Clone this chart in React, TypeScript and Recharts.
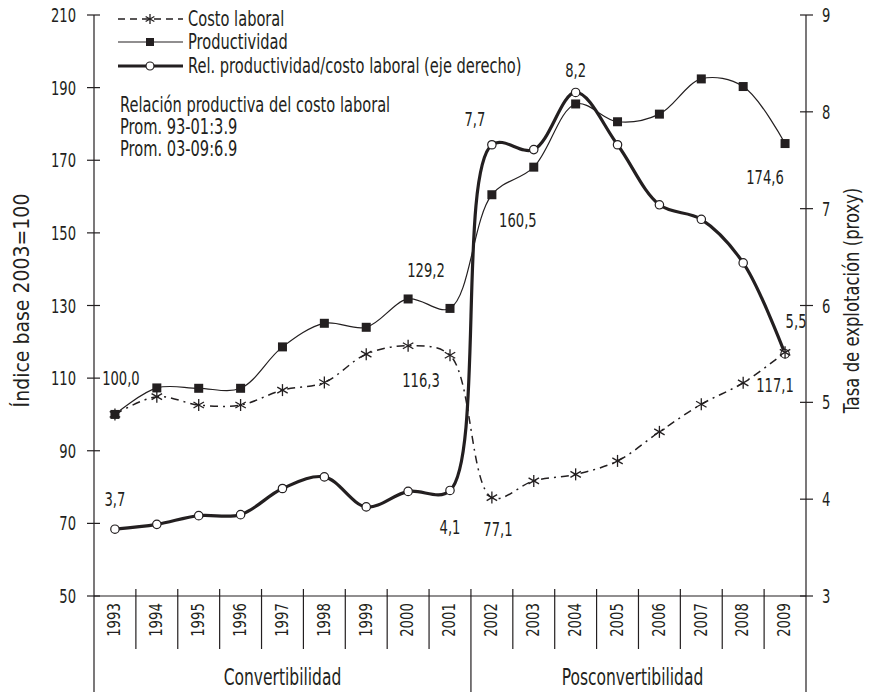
import React from 'react'
import { ComposedChart, Line, XAxis, YAxis } from 'recharts'

const years = ['1993', '1994', '1995', '1996', '1997', '1998', '1999', '2000', '2001', '2002', '2003', '2004', '2005', '2006', '2007', '2008', '2009']
const costoLaboral = [100, 104.9, 102.6, 102.6, 106.7, 108.8, 116.6, 118.9, 116.3, 77.1, 81.7, 83.5, 87.2, 95.2, 102.8, 108.7, 117.1]
const productividad = [100, 107.3, 107.2, 107.2, 118.6, 125.1, 124.0, 131.8, 129.2, 160.5, 168.1, 185.5, 180.6, 182.7, 192.4, 190.3, 174.6]
const relacion = [3.69, 3.74, 3.83, 3.84, 4.11, 4.23, 3.92, 4.08, 4.09, 7.66, 7.61, 8.2, 7.66, 7.04, 6.89, 6.44, 5.5]
const leftTicks = [50, 70, 90, 110, 130, 150, 170, 190, 210]
const rightTicks = [3, 4, 5, 6, 7, 8, 9]
const periods = ['Convertibilidad', 'Posconvertibilidad']
const notes = ['Relación productiva del costo laboral', 'Prom. 93-01:3.9', 'Prom. 03-09:6.9']

const data = years.map((year, i) => ({
  year,
  costo: costoLaboral[i],
  prod: productividad[i],
  rel: relacion[i],
}))

const INK = '#231f20'
const FONT = "'DejaVu Sans Condensed', 'DejaVu Sans', sans-serif"

const WIDTH = 873
const HEIGHT = 692
const LEFT_W = 94
const RIGHT_W = 67
const X_H = 96
// half of one year slot, so points sit in the middle of each slot
const HALF = (WIDTH - LEFT_W - RIGHT_W) / years.length / 2

// label offsets (dx, dy) from the point, only for labelled points
const prodLabels: Record<number, [number, number]> = { 0: [6, -36], 8: [-24, -38], 9: [26, 25], 16: [-20, 33] }
const costoLabels: Record<number, [number, number]> = { 8: [-29, 25], 9: [6, 31], 16: [-10, 33] }
const relLabels: Record<number, [number, number]> = { 0: [0, -30], 8: [0, 37], 9: [-17, -26], 11: [0, -22], 16: [11, -33] }

const fmt = (v: number) => v.toFixed(1).replace('.', ',')

// smoothed line like the spreadsheet one: centripetal catmull-rom through the points
const smoothCurve = (context: any) => {
  let pts: number[][] = []
  return {
    areaStart() {},
    areaEnd() {},
    lineStart() {
      pts = []
    },
    point(x: number, y: number) {
      pts.push([+x, +y])
    },
    lineEnd() {
      const n = pts.length
      if (!n) return
      const dist = (a: number[], b: number[]) => Math.hypot(b[0] - a[0], b[1] - a[1])
      context.moveTo(pts[0][0], pts[0][1])
      for (let i = 0; i < n - 1; i++) {
        const p0 = pts[i - 1] || pts[i]
        const p1 = pts[i]
        const p2 = pts[i + 1]
        const p3 = pts[i + 2] || pts[i + 1]
        const d01 = dist(p0, p1)
        const d12 = dist(p1, p2)
        const d23 = dist(p2, p3)
        const l01 = Math.sqrt(d01)
        const l12 = Math.sqrt(d12)
        const l23 = Math.sqrt(d23)
        let c1 = p1
        let c2 = p2
        if (l01 > 1e-6) {
          const a = 2 * d01 + 3 * l01 * l12 + d12
          const m = 3 * l01 * (l01 + l12)
          c1 = [(p1[0] * a - p0[0] * d12 + p2[0] * d01) / m, (p1[1] * a - p0[1] * d12 + p2[1] * d01) / m]
        }
        if (l23 > 1e-6) {
          const b = 2 * d23 + 3 * l23 * l12 + d12
          const m = 3 * l23 * (l23 + l12)
          c2 = [(p2[0] * b + p1[0] * d23 - p3[0] * d12) / m, (p2[1] * b + p1[1] * d23 - p3[1] * d12) / m]
        }
        context.bezierCurveTo(c1[0], c1[1], c2[0], c2[1], p2[0], p2[1])
      }
    },
  }
}

// condensed text: the original uses a narrow typeface
const CText = ({
  x,
  y,
  size,
  sx = 1,
  anchor = 'middle',
  rotate = 0,
  children,
}: {
  x: number
  y: number
  size: number
  sx?: number
  anchor?: string
  rotate?: number
  children: React.ReactNode
}) => (
  <g transform={`translate(${x},${y}) rotate(${rotate}) scale(${sx},1)`}>
    <text x={0} y={0} dy='0.35em' textAnchor={anchor as any} fontFamily={FONT} fontSize={size} fill={INK}>
      {children}
    </text>
  </g>
)

const Star = ({ cx, cy, r = 6 }: { cx: number; cy: number; r?: number }) => {
  const a = r * 0.87
  const b = r * 0.5
  return (
    <g stroke={INK} strokeWidth={1.3}>
      <line x1={cx} y1={cy - r} x2={cx} y2={cy + r} />
      <line x1={cx - a} y1={cy - b} x2={cx + a} y2={cy + b} />
      <line x1={cx - a} y1={cy + b} x2={cx + a} y2={cy - b} />
    </g>
  )
}

const makeDot = (kind: string, key: 'costo' | 'prod' | 'rel', labels: Record<number, [number, number]>) => (props: any) => {
  const { cx, cy, index, payload } = props
  const off = labels[index]
  let marker
  if (kind === 'star') marker = <Star cx={cx} cy={cy} />
  else if (kind === 'square') marker = <rect x={cx - 4.5} y={cy - 4.5} width={9} height={9} fill={INK} />
  else marker = <circle cx={cx} cy={cy} r={4.2} fill='#fff' stroke={INK} strokeWidth={1.2} />
  return (
    <g key={`${key}-${index}`}>
      {marker}
      {off && (
        <CText x={cx + off[0]} y={cy + off[1]} size={20} sx={0.73}>
          {fmt(payload[key])}
        </CText>
      )}
    </g>
  )
}

const LeftTick = (props: any) => {
  const { x, y, payload } = props
  return (
    <g>
      <line x1={x - 7} x2={x + 6} y1={y} y2={y} stroke={INK} strokeWidth={1.2} />
      <CText x={x - 18} y={y} size={20} sx={0.73} anchor='end'>
        {payload.value}
      </CText>
    </g>
  )
}

const RightTick = (props: any) => {
  const { x, y, payload } = props
  return (
    <g>
      <line x1={x - 6} x2={x + 7} y1={y} y2={y} stroke={INK} strokeWidth={1.2} />
      <CText x={x + 16} y={y} size={20} sx={0.73} anchor='start'>
        {payload.value}
      </CText>
    </g>
  )
}

const XTick = (props: any) => {
  const { x, y, payload, index } = props
  const last = years.length - 1
  const split = years.indexOf('2002')
  return (
    <g>
      {index > 0 && index !== split && (
        <line x1={x - HALF} x2={x - HALF} y1={y - 7} y2={y + 53} stroke={INK} strokeWidth={1.2} />
      )}
      {index === split && <line x1={x - HALF} x2={x - HALF} y1={y - 7} y2={y + X_H} stroke={INK} strokeWidth={1.2} />}
      {index === 0 && <line x1={x - HALF} x2={x - HALF} y1={y} y2={y + X_H} stroke={INK} strokeWidth={1.2} />}
      {index === last && <line x1={x + HALF} x2={x + HALF} y1={y} y2={y + X_H} stroke={INK} strokeWidth={1.2} />}
      <CText x={x - 1} y={y + 24} size={18} sx={0.82} rotate={-90}>
        {payload.value}
      </CText>
      {index === Math.floor(split / 2) && (
        <CText x={x} y={y + 81} size={23} sx={0.75}>
          {periods[0]}
        </CText>
      )}
      {index === Math.floor((split + last) / 2) && (
        <CText x={x + HALF - 6} y={y + 81} size={23} sx={0.75}>
          {periods[1]}
        </CText>
      )}
    </g>
  )
}

const leftTitle = (props: any) => {
  const vb = props.viewBox
  return (
    <CText x={vb.x + 22} y={vb.y + vb.height / 2 - 5} size={21} sx={1} rotate={-90}>
      Índice base 2003=100
    </CText>
  )
}

const rightTitle = (props: any) => {
  const vb = props.viewBox
  return (
    <CText x={vb.x + 46} y={vb.y + vb.height / 2 - 5} size={21} sx={0.87} rotate={-90}>
      Tasa de explotación (proxy)
    </CText>
  )
}

const Overlay = () => (
  <svg width={WIDTH} height={HEIGHT} style={{ position: 'absolute', left: 0, top: 0, pointerEvents: 'none' }}>
    <line x1={118} x2={183} y1={19} y2={19} stroke={INK} strokeWidth={1.5} strokeDasharray='7 5' />
    <Star cx={150} cy={19} r={5} />
    <CText x={188} y={19} size={21} sx={0.775} anchor='start'>
      Costo laboral
    </CText>

    <line x1={118} x2={183} y1={42} y2={42} stroke={INK} strokeWidth={1.2} />
    <rect x={146} y={38} width={8} height={8} fill={INK} />
    <CText x={188} y={42} size={21} sx={0.775} anchor='start'>
      Productividad
    </CText>

    <line x1={118} x2={183} y1={66} y2={66} stroke={INK} strokeWidth={3} />
    <circle cx={150} cy={66} r={4} fill='#fff' stroke={INK} strokeWidth={1.2} />
    <CText x={188} y={66} size={21} sx={0.775} anchor='start'>
      Rel. productividad/costo laboral (eje derecho)
    </CText>

    {notes.map((t, i) => (
      <CText key={t} x={120} y={105 + i * 22} size={21} sx={0.775} anchor='start'>
        {t}
      </CText>
    ))}
  </svg>
)

export default function App() {
  return (
    <div style={{ position: 'absolute', left: 0, top: 0, width: WIDTH, height: HEIGHT, background: '#fff', fontFamily: FONT }}>
      <ComposedChart width={WIDTH} height={HEIGHT} data={data} margin={{ top: 15, right: 0, bottom: 0, left: 0 }}>
        <XAxis
          dataKey='year'
          height={X_H}
          interval={0}
          padding={{ left: HALF, right: HALF }}
          tickSize={0}
          tickMargin={0}
          tickLine={false}
          axisLine={{ stroke: INK, strokeWidth: 1.2 }}
          tick={<XTick />}
        />
        <YAxis
          yAxisId='left'
          type='number'
          width={LEFT_W}
          domain={[50, 210]}
          ticks={leftTicks}
          interval={0}
          tickSize={0}
          tickMargin={0}
          tickLine={false}
          axisLine={{ stroke: INK, strokeWidth: 1.2 }}
          tick={<LeftTick />}
          label={leftTitle}
        />
        <YAxis
          yAxisId='right'
          orientation='right'
          type='number'
          width={RIGHT_W}
          domain={[3, 9]}
          ticks={rightTicks}
          interval={0}
          tickSize={0}
          tickMargin={0}
          tickLine={false}
          axisLine={{ stroke: INK, strokeWidth: 1.2 }}
          tick={<RightTick />}
          label={rightTitle}
        />
        <Line
          yAxisId='right'
          dataKey='rel'
          type={smoothCurve as any}
          stroke={INK}
          strokeWidth={3.2}
          dot={makeDot('circle', 'rel', relLabels)}
          activeDot={false}
          isAnimationActive={false}
        />
        <Line
          yAxisId='left'
          dataKey='prod'
          type={smoothCurve as any}
          stroke={INK}
          strokeWidth={1.2}
          dot={makeDot('square', 'prod', prodLabels)}
          activeDot={false}
          isAnimationActive={false}
        />
        <Line
          yAxisId='left'
          dataKey='costo'
          type={smoothCurve as any}
          stroke={INK}
          strokeWidth={1.5}
          strokeDasharray='8 5 2 5'
          dot={makeDot('star', 'costo', costoLabels)}
          activeDot={false}
          isAnimationActive={false}
        />
      </ComposedChart>
      <Overlay />
    </div>
  )
}
